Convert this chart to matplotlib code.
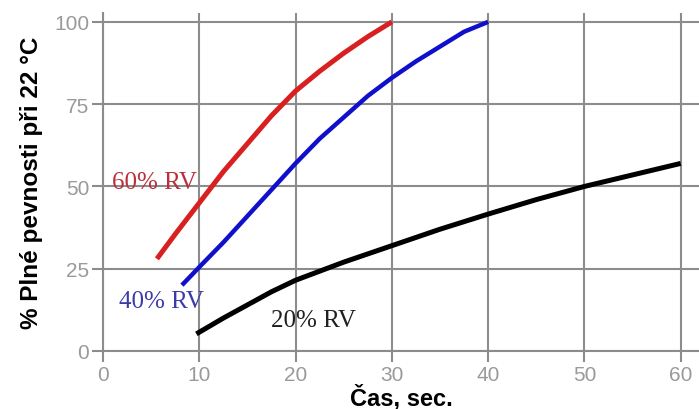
import matplotlib
matplotlib.use("Agg")
import matplotlib.pyplot as plt

# Data
x60 = [5.6, 7.5, 10, 12.5, 15, 17.5, 20, 22.5, 25, 27.5, 30]
y60 = [28, 35.5, 45, 54.5, 63, 71.5, 79, 85, 90.5, 95.5, 100]
x40 = [8.2, 10, 12.5, 15, 17.5, 20, 22.5, 25, 27.5, 30, 32.5, 35, 37.5, 40]
y40 = [20, 25.5, 33, 41, 49, 57, 64.5, 71, 77.5, 83, 88, 92.5, 97, 100]
x20 = [9.7, 12.5, 15, 17.5, 20, 25, 30, 35, 40, 45, 50, 55, 60]
y20 = [5.2, 10, 14, 18, 21.5, 27, 32, 37, 41.6, 46, 50, 53.5, 57]
xticks = [0, 10, 20, 30, 40, 50, 60]
yticks = [0, 25, 50, 75, 100]
labels = ["60% RV", "40% RV", "20% RV"]

fig = plt.figure(figsize=(6.99, 4.10), dpi=100)
ax = fig.add_axes([103/699, 58/410, 596/699, 338/410])
grid_c = "#8c8c8c"
ax.set_xlim(0, 61.9)
ax.set_ylim(0, 102.7)
ax.set_xticks(xticks)
ax.set_yticks(yticks)
ax.grid(True, color=grid_c, linewidth=1.5)
for s in ["top", "right"]:
    ax.spines[s].set_visible(False)
for s in ["left", "bottom"]:
    ax.spines[s].set_color(grid_c)
    ax.spines[s].set_linewidth(1.5)
ax.tick_params(direction="out", length=8, width=1.5, color=grid_c,
               labelcolor="#9a9a9a", labelsize=15, pad=2)
for lab in ax.get_xticklabels() + ax.get_yticklabels():
    lab.set_family("Liberation Sans")

kw = dict(solid_capstyle="butt", solid_joinstyle="round", zorder=3)
ax.plot(x60, y60, color="#d82020", lw=3.6, **kw)
ax.plot(x40, y40, color="#1010cc", lw=3.2, **kw)
ax.plot(x20, y20, color="black", lw=3.6, **kw)

ax.text(0.9, 51.5, labels[0], color="#b8303c", fontsize=18,
        family="Liberation Serif", va="center", ha="left", zorder=4)
ax.text(1.7, 15.3, labels[1], color="#3c3ca8", fontsize=18,
        family="Liberation Serif", va="center", ha="left", zorder=4)
ax.text(17.5, 9.3, labels[2], color="#202020", fontsize=18,
        family="Liberation Serif", va="center", ha="left", zorder=4)

ax.set_xlabel("Čas, sec.", fontsize=17, fontweight="bold",
              family="Liberation Sans", labelpad=0)
ax.set_ylabel("% Plné pevnosti při 22 °C", fontsize=17.5, fontweight="bold",
              family="Liberation Sans", labelpad=8)

fig.savefig("out.png", dpi=100)
